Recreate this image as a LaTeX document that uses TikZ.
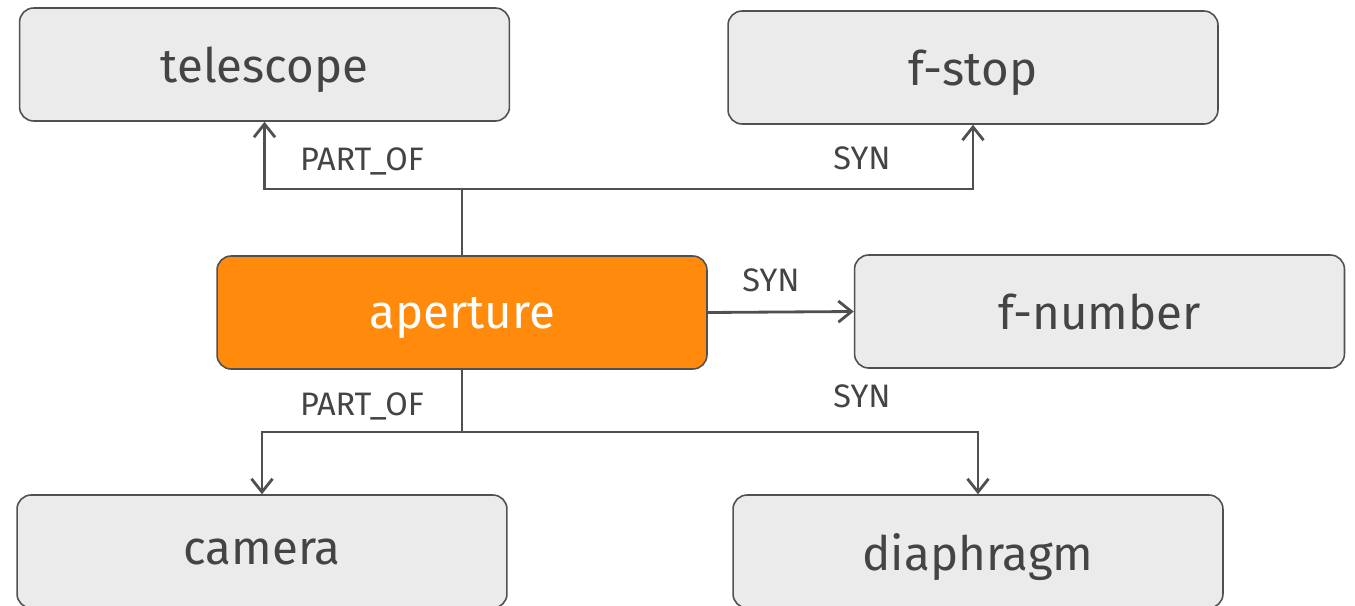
\documentclass[tikz,border=0pt]{standalone}
\usepackage{fontspec}
\setmainfont{Fira Sans}
\usetikzlibrary{arrows.meta}
\definecolor{boxgray}{HTML}{EBEBEB}
\definecolor{linegray}{HTML}{505050}
\definecolor{txtgray}{HTML}{444444}
\definecolor{apeorange}{HTML}{FF8A0C}

\begin{document}
\begin{tikzpicture}[x=0.02cm, y=-0.02cm, >={Straight Barb[length=7.5pt,width=12pt]},
    line width=1.6pt,
    term/.style={draw=linegray, line width=.9pt, fill=boxgray, rounded corners=8pt,
      minimum width=9.8cm, minimum height=2.26cm, text=txtgray, text depth=0pt,
      font=\fontsize{27}{32}\selectfont},
    focus/.style={term, fill=apeorange, text=white},
    rel/.style={font=\fontsize{18.5}{22}\selectfont, text=txtgray},
    link/.style={->, draw=linegray}]
    \useasboundingbox (0,0) rectangle (1355,605);
    % terms
    \node[term] (telescope) at (264.5,64.5) {telescope};
    \node[term] (fstop) at (973,67.5) {f-stop};
    \node[focus] (aperture) at (462,312.5) {aperture};
    \node[term] (fnumber) at (1099.5,311.5) {f-number};
    \node[term] (camera) at (262,551.5) {camera};
    \node[term] (diaphragm) at (978,551.5) {diaphragm};
    % junctions
    \coordinate (jtop) at (462,189);
    \coordinate (jbot) at (462,432);
    % relations
    \draw[link] (aperture.north) -- (jtop) -| (telescope.south);
    \draw[link] (jtop) -| (fstop.south);
    \draw[link] (aperture.east) -- (fnumber.west);
    \draw[link] (aperture.south) -- (jbot) -| (camera.north);
    \draw[link] (jbot) -| (diaphragm.north);
    \node[rel] (l1) at (362,161) {PART\_OF};
    \node[rel] (l2) at (862,158) {SYN};
    \node[rel] (l3) at (771,280) {SYN};
    \node[rel] (l4) at (362,406) {PART\_OF};
    \node[rel] (l5) at (862,396) {SYN};
\end{tikzpicture}
\end{document}
